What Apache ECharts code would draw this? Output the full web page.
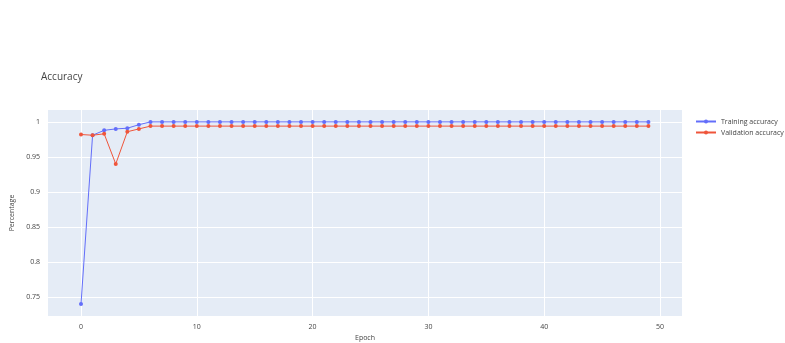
<!DOCTYPE html>
<html>
<head>
<meta charset="utf-8">
<script src="https://cdn.jsdelivr.net/npm/echarts@6/dist/echarts.min.js"></script>
<style>
html,body{margin:0;padding:0;background:#fff;}
#chart{width:785px;height:343px;}
</style>
</head>
<body>
<div id="chart"></div>
<script>
// epochs 0..49
var epochs = [];
for (var i = 0; i < 50; i++) { epochs.push(i); }

var trainAcc = [0.74, 0.981, 0.988, 0.99, 0.991, 0.996,
    1, 1, 1, 1, 1, 1, 1, 1, 1, 1, 1, 1, 1, 1, 1, 1, 1, 1, 1, 1, 1, 1,
    1, 1, 1, 1, 1, 1, 1, 1, 1, 1, 1, 1, 1, 1, 1, 1, 1, 1, 1, 1, 1, 1];
var valAcc = [0.982, 0.981, 0.983, 0.94, 0.986, 0.99,
    0.994, 0.994, 0.994, 0.994, 0.994, 0.994, 0.994, 0.994, 0.994, 0.994, 0.994, 0.994,
    0.994, 0.994, 0.994, 0.994, 0.994, 0.994, 0.994, 0.994, 0.994, 0.994, 0.994, 0.994,
    0.994, 0.994, 0.994, 0.994, 0.994, 0.994, 0.994, 0.994, 0.994, 0.994, 0.994, 0.994,
    0.994, 0.994, 0.994, 0.994, 0.994, 0.994, 0.994, 0.994];

var xTicks = [0, 10, 20, 30, 40, 50];
var yTicks = [0.75, 0.8, 0.85, 0.9, 0.95, 1];

function pairs(xs, ys) {
    var out = [];
    for (var i = 0; i < xs.length; i++) { out.push([xs[i], ys[i]]); }
    return out;
}

var chart = echarts.init(document.getElementById('chart'));
var option = {
    backgroundColor: '#fff',
    animation: false,
    textStyle: { fontFamily: 'Open Sans, Noto Sans, sans-serif', color: '#444' },
    title: {
        text: 'Accuracy',
        left: 36,
        top: 67,
        textStyle: { fontSize: 10, fontWeight: 'normal', color: '#444' }
    },
    legend: {
        orient: 'vertical',
        left: 690,
        top: 113,
        itemWidth: 20,
        itemHeight: 5,
        itemGap: 4,
        textStyle: { fontSize: 7, color: '#444' },
        data: ['Training accuracy', 'Validation accuracy']
    },
    grid: {
        left: 48,
        right: 103,
        top: 110,
        bottom: 27,
        show: true,
        backgroundColor: '#E5ECF6',
        borderWidth: 0,
        containLabel: false,
        outerBoundsMode: 'none'
    },
    xAxis: {
        type: 'value',
        min: -2.85,
        max: 51.9,
        name: 'Epoch',
        nameLocation: 'middle',
        nameGap: 18,
        nameTextStyle: { fontSize: 7, color: '#444' },
        axisLine: { show: false },
        axisTick: { show: false, customValues: xTicks },
        axisLabel: { customValues: xTicks, fontSize: 7, color: '#444', margin: 7 },
        splitLine: { show: true, lineStyle: { color: '#fff', width: 1 } }
    },
    yAxis: {
        type: 'value',
        min: 0.723,
        max: 1.017,
        name: 'Percentage',
        nameLocation: 'middle',
        nameGap: 30,
        nameTextStyle: { fontSize: 7, color: '#444' },
        axisLine: { show: false },
        axisTick: { show: false, customValues: yTicks },
        axisLabel: { customValues: yTicks, fontSize: 7, color: '#444', margin: 8 },
        splitLine: { show: true, lineStyle: { color: '#fff', width: 1 } }
    },
    series: [
        {
            name: 'Training accuracy',
            type: 'line',
            data: pairs(epochs, trainAcc),
            symbol: 'circle',
            symbolSize: 4,
            showSymbol: true,
            itemStyle: { color: '#636EFA' },
            lineStyle: { color: '#636EFA', width: 1 }
        },
        {
            name: 'Validation accuracy',
            type: 'line',
            data: pairs(epochs, valAcc),
            symbol: 'circle',
            symbolSize: 4,
            showSymbol: true,
            itemStyle: { color: '#EF553B' },
            lineStyle: { color: '#EF553B', width: 1 }
        }
    ]
};
chart.setOption(option);
</script>
</body>
</html>
